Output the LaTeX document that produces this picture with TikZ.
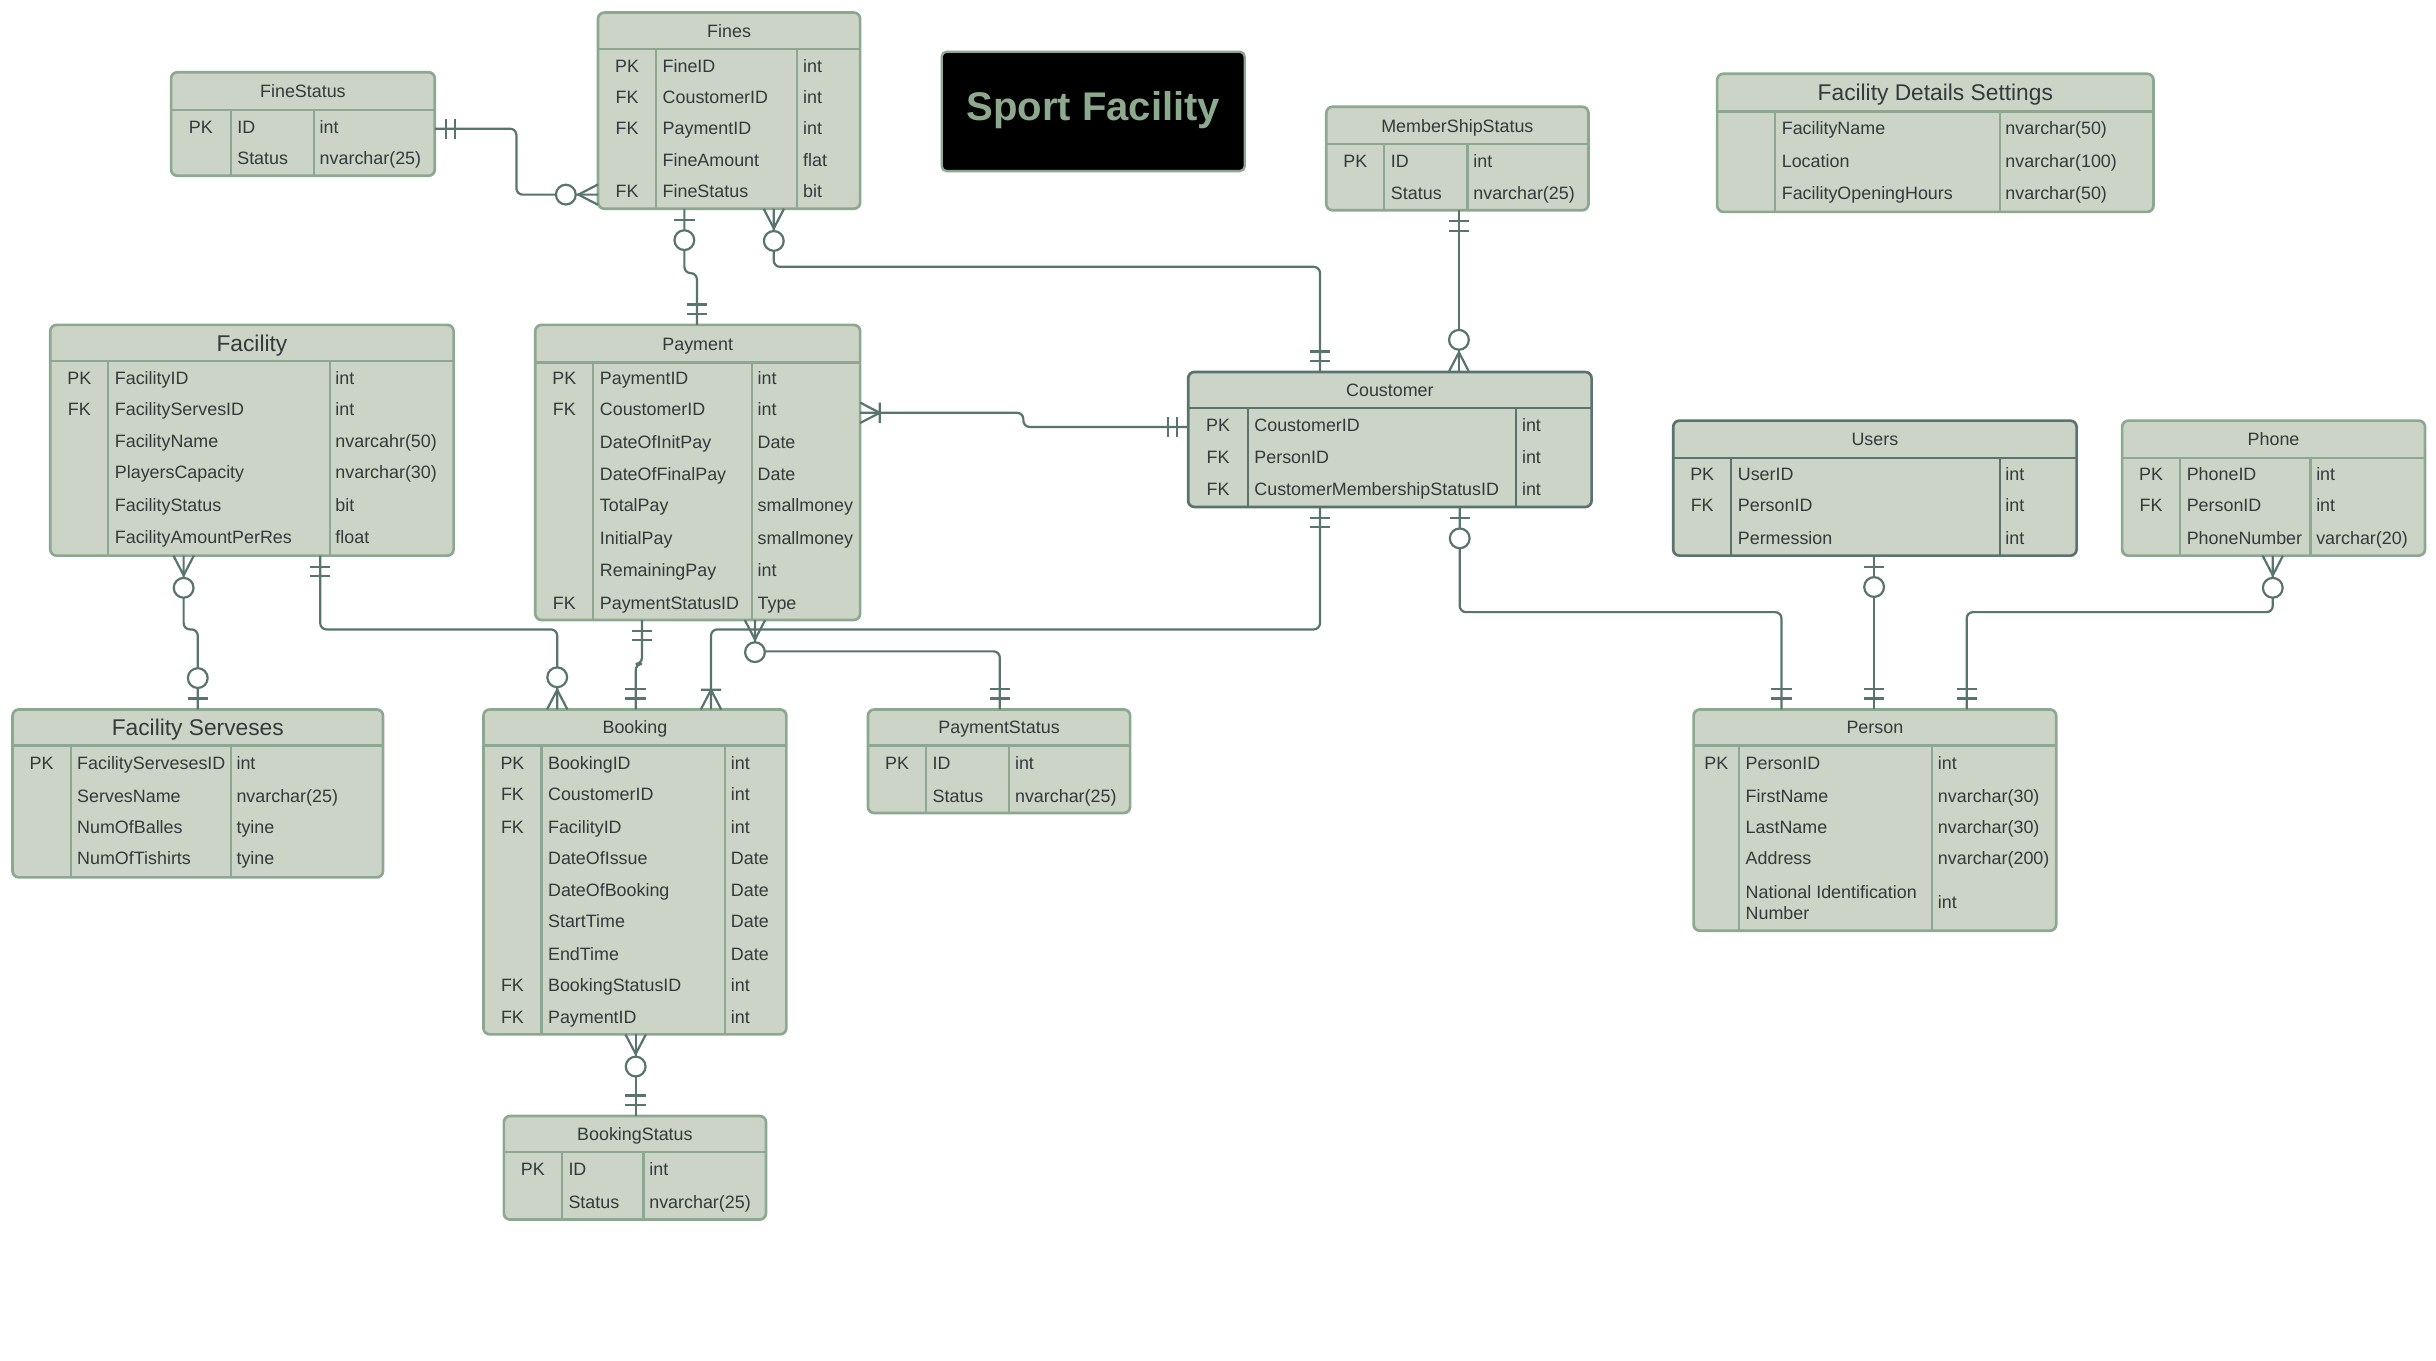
\documentclass[tikz,border=0pt]{standalone}
\usepackage{fontspec}
\setmainfont{Liberation Sans}
\usetikzlibrary{fit}
\definecolor{tabfill}{RGB}{203,212,198}
\definecolor{tabedge}{RGB}{141,168,145}
\definecolor{tabdark}{RGB}{88,116,108}
\definecolor{connc}{RGB}{88,116,108}
\definecolor{txtc}{RGB}{50,58,58}
\definecolor{brandc}{RGB}{141,170,143}
\tikzset{
  tabbox/.style={draw=tabedge, fill=tabfill, line width=1.7pt, rounded corners=4pt, inner sep=0pt, outer sep=0pt},
  tabline/.style={draw=tabedge, line width=1.4pt},
  darktab/.style={draw=tabdark},
  lighttab/.style={},
  fldtxt/.style={anchor=base west, inner sep=0pt, text=txtc, font=\fontsize{11.4}{13}\selectfont},
  keytxt/.style={anchor=base, inner sep=0pt, text=txtc, font=\fontsize{11.4}{13}\selectfont},
  ttltxt/.style={anchor=base, inner sep=0pt, text=txtc},
  conn/.style={draw=connc, line width=1.4pt, rounded corners=4pt},
  deco/.style={draw=connc, line width=1.4pt},
  erone/.pic={\draw[deco] (7,-6.5) -- (7,6.5) (13,-6.5) -- (13,6.5);},
  erzeroone/.pic={\draw[deco] (7,-6.5) -- (7,6.5); \draw[deco,fill=white] (20,0) circle (6.3pt);},
  erzeromany/.pic={\draw[deco] (0,-6.5) -- (12.5,0) -- (0,6.5); \draw[deco,fill=white] (20.5,0) circle (6.3pt);},
  eronemany/.pic={\draw[deco] (0,-6.5) -- (12.5,0) -- (0,6.5) (12.5,-6.5) -- (12.5,6.5);},
}
\newcommand{\ertab}[9]{%
  \node[tabbox,#9,fit={(#2,#3) (#4,#5)}] (#1) {};
  \draw[tabline,#9] (#2,#6) -- (#4,#6) (#7,#6) -- (#7,#5) (#8,#6) -- (#8,#5);
  \def\TN{#1}%
  \pgfmathsetmacro\KX{(#2+#7)/2}%
  \pgfmathsetmacro\NX{#7+4}%
  \pgfmathsetmacro\TX{#8+3.5}%
  \pgfmathsetmacro\TCX{(#2+#4)/2}%
  \pgfmathsetmacro\TCY{(#3+#6)/2}%
}
\newcommand{\ertitle}[2][11.4]{\node[ttltxt,font=\fontsize{#1}{#1}\selectfont] (\TN-title) at (\TCX,\TCY+0.36*#1) {#2};}
\newcommand{\rw}[4]{%
  \node[keytxt] (\TN-#1-k) at (\KX,#1+4) {#2};
  \node[fldtxt] (\TN-#1-f) at (\NX,#1+4) {#3};
  \node[fldtxt] (\TN-#1-d) at (\TX,#1+4) {#4};}
\begin{document}
\begin{tikzpicture}[x=1pt,y=-1pt]
\useasboundingbox (0,0) rectangle (1552,866.5);
\fill[white] (0,0) rectangle (1552,866.5);

% title box
\node[draw=tabedge, fill=black, line width=1.5pt, rounded corners=3pt, inner sep=0pt, outer sep=0pt, fit={(600,33) (793,109)}] (brand) {};
\node[anchor=base, inner sep=0pt, text=brandc, font=\bfseries\fontsize{25.5}{25.5}\selectfont] (brand-text) at (696.5,77) {Sport Facility};

% tables
\ertab{finestatus}{109}{46}{277}{112}{70}{147}{200}{lighttab}
\ertitle{FineStatus}
\rw{81}{PK}{ID}{int}
\rw{101}{}{Status}{nvarchar(25)}

\ertab{fines}{381}{8}{548}{133}{31}{418}{508}{lighttab}
\ertitle{Fines}
\rw{42}{PK}{FineID}{int}
\rw{62}{FK}{CoustomerID}{int}
\rw{82}{FK}{PaymentID}{int}
\rw{102}{}{FineAmount}{flat}
\rw{122}{FK}{FineStatus}{bit}

\ertab{mss}{845}{68}{1012}{134}{92}{882}{935}{lighttab}
\ertitle{MemberShipStatus}
\rw{103}{PK}{ID}{int}
\rw{123}{}{Status}{nvarchar(25)}

\ertab{fds}{1094}{47}{1372}{135}{71}{1131}{1274}{lighttab}
\ertitle[14.5]{Facility Details Settings}
\rw{82}{}{FacilityName}{nvarchar(50)}
\rw{103}{}{Location}{nvarchar(100)}
\rw{123}{}{FacilityOpeningHours}{nvarchar(50)}

\ertab{facility}{32}{207}{289}{354}{230}{69}{210}{lighttab}
\ertitle[14.5]{Facility}
\rw{241}{PK}{FacilityID}{int}
\rw{261}{FK}{FacilityServesID}{int}
\rw{281}{}{FacilityName}{nvarcahr(50)}
\rw{301}{}{PlayersCapacity}{nvarchar(30)}
\rw{322}{}{FacilityStatus}{bit}
\rw{342}{}{FacilityAmountPerRes}{float}

\ertab{payment}{341}{207}{548}{395}{231}{378}{479}{lighttab}
\ertitle{Payment}
\rw{241}{PK}{PaymentID}{int}
\rw{261}{FK}{CoustomerID}{int}
\rw{282}{}{DateOfInitPay}{Date}
\rw{302}{}{DateOfFinalPay}{Date}
\rw{322}{}{TotalPay}{smallmoney}
\rw{343}{}{InitialPay}{smallmoney}
\rw{363}{}{RemainingPay}{int}
\rw{384}{FK}{PaymentStatusID}{Type}

\ertab{coustomer}{757}{237}{1014}{323}{260}{795}{966}{darktab}
\ertitle{Coustomer}
\rw{271}{PK}{CoustomerID}{int}
\rw{291}{FK}{PersonID}{int}
\rw{312}{FK}{CustomerMembershipStatusID}{int}

\ertab{users}{1066}{268}{1323}{354}{292}{1103}{1274}{darktab}
\ertitle{Users}
\rw{302}{PK}{UserID}{int}
\rw{322}{FK}{PersonID}{int}
\rw{343}{}{Permession}{int}

\ertab{phone}{1352}{268}{1545}{354}{292}{1389}{1472}{lighttab}
\ertitle{Phone}
\rw{302}{PK}{PhoneID}{int}
\rw{322}{FK}{PersonID}{int}
\rw{343}{}{PhoneNumber}{varchar(20)}

\ertab{fserv}{8}{452}{244}{559}{475}{45}{147}{lighttab}
\ertitle[14.5]{Facility Serveses}
\rw{486}{PK}{FacilityServesesID}{int}
\rw{507}{}{ServesName}{nvarchar(25)}
\rw{527}{}{NumOfBalles}{tyine}
\rw{547}{}{NumOfTishirts}{tyine}

\ertab{booking}{308}{452}{501}{659}{475}{345}{462}{lighttab}
\ertitle{Booking}
\rw{486}{PK}{BookingID}{int}
\rw{506}{FK}{CoustomerID}{int}
\rw{527}{FK}{FacilityID}{int}
\rw{547}{}{DateOfIssue}{Date}
\rw{567}{}{DateOfBooking}{Date}
\rw{587}{}{StartTime}{Date}
\rw{608}{}{EndTime}{Date}
\rw{628}{FK}{BookingStatusID}{int}
\rw{648}{FK}{PaymentID}{int}

\ertab{pstatus}{553}{452}{720}{518}{475}{590}{643}{lighttab}
\ertitle{PaymentStatus}
\rw{486}{PK}{ID}{int}
\rw{507}{}{Status}{nvarchar(25)}

\ertab{person}{1079}{452}{1310}{593}{475}{1108}{1231}{lighttab}
\ertitle{Person}
\rw{486}{PK}{PersonID}{int}
\rw{507}{}{FirstName}{nvarchar(30)}
\rw{527}{}{LastName}{nvarchar(30)}
\rw{547}{}{Address}{nvarchar(200)}
\node[fldtxt, anchor=west, align=left] (person-575-f) at (\NX,575) {National Identification\\Number};
\node[fldtxt] (person-575-d) at (\TX,579) {int};

\ertab{bstatus}{321}{711}{488}{777}{734}{358}{410}{lighttab}
\ertitle{BookingStatus}
\rw{745}{PK}{ID}{int}
\rw{766}{}{Status}{nvarchar(25)}

% connector end points
\coordinate (c1a) at ([yshift=-36pt]finestatus.north east);
\coordinate (c1b) at ([yshift=-116pt]fines.north west);
\coordinate (c2a) at ([xshift=55pt]fines.south west);
\coordinate (c2b) at ([xshift=103pt]payment.north west);
\coordinate (c3a) at ([xshift=112pt]fines.south west);
\coordinate (c3b) at ([xshift=84pt]coustomer.north west);
\coordinate (c4a) at ([xshift=84.5pt]mss.south west);
\coordinate (c4b) at ([xshift=172.5pt]coustomer.north west);
\coordinate (c5a) at ([yshift=-56pt]payment.north east);
\coordinate (c5b) at ([yshift=-35pt]coustomer.north west);
\coordinate (c6a) at ([xshift=85pt]facility.south west);
\coordinate (c6b) at ([xshift=118pt]fserv.north west);
\coordinate (c7a) at ([xshift=172pt]facility.south west);
\coordinate (c7b) at ([xshift=47pt]booking.north west);
\coordinate (c8a) at ([xshift=68pt]payment.south west);
\coordinate (c8b) at ([xshift=97pt]booking.north west);
\coordinate (c9a) at ([xshift=84pt]coustomer.south west);
\coordinate (c9b) at ([xshift=145pt]booking.north west);
\coordinate (c10a) at ([xshift=140pt]payment.south west);
\coordinate (c10b) at ([xshift=84pt]pstatus.north west);
\coordinate (c11a) at ([xshift=97pt]booking.south west);
\coordinate (c11b) at ([xshift=84pt]bstatus.north west);
\coordinate (c12a) at ([xshift=173pt]coustomer.south west);
\coordinate (c12b) at ([xshift=56pt]person.north west);
\coordinate (c13a) at ([xshift=128pt]users.south west);
\coordinate (c13b) at ([xshift=115pt]person.north west);
\coordinate (c14a) at ([xshift=96pt]phone.south west);
\coordinate (c14b) at ([xshift=174pt]person.north west);

% connectors
\draw[conn] (c1a) -- ++(52,0) |- (c1b);
\draw[conn] (c2a) -- ++(0,41) -| (c2b);
\draw[conn] (c3a) -- ++(0,37) -| (c3b);
\draw[conn] (c4a) -- (c4b);
\draw[conn] (c5a) -- ++(104,0) |- (c5b);
\draw[conn] (c6a) -- ++(0,47) -| (c6b);
\draw[conn] (c7a) -- ++(0,47) -| (c7b);
\draw[conn] (c8a) -- ++(0,28) -| (c8b);
\draw[conn] (c9a) -- ++(0,78) -| (c9b);
\draw[conn] (c10a) -- ++(0,20) -| (c10b);
\draw[conn] (c11a) -- (c11b);
\draw[conn] (c12a) -- ++(0,67) -| (c12b);
\draw[conn] (c13a) -- (c13b);
\draw[conn] (c14a) -- ++(0,36) -| (c14b);

% end symbols
\pic[rotate=0] at (c1a) {erone};
\pic[rotate=180] at (c1b) {erzeromany};
\pic[rotate=-90] at (c2a) {erzeroone};
\pic[rotate=90] at (c2b) {erone};
\pic[rotate=-90] at (c3a) {erzeromany};
\pic[rotate=90] at (c3b) {erone};
\pic[rotate=-90] at (c4a) {erone};
\pic[rotate=90] at (c4b) {erzeromany};
\pic[rotate=0] at (c5a) {eronemany};
\pic[rotate=180] at (c5b) {erone};
\pic[rotate=-90] at (c6a) {erzeromany};
\pic[rotate=90] at (c6b) {erzeroone};
\pic[rotate=-90] at (c7a) {erone};
\pic[rotate=90] at (c7b) {erzeromany};
\pic[rotate=-90] at (c8a) {erone};
\pic[rotate=90] at (c8b) {erone};
\pic[rotate=-90] at (c9a) {erone};
\pic[rotate=90] at (c9b) {eronemany};
\pic[rotate=-90] at (c10a) {erzeromany};
\pic[rotate=90] at (c10b) {erone};
\pic[rotate=-90] at (c11a) {erzeromany};
\pic[rotate=90] at (c11b) {erone};
\pic[rotate=-90] at (c12a) {erzeroone};
\pic[rotate=90] at (c12b) {erone};
\pic[rotate=-90] at (c13a) {erzeroone};
\pic[rotate=90] at (c13b) {erone};
\pic[rotate=-90] at (c14a) {erzeromany};
\pic[rotate=90] at (c14b) {erone};
\end{tikzpicture}
\end{document}
